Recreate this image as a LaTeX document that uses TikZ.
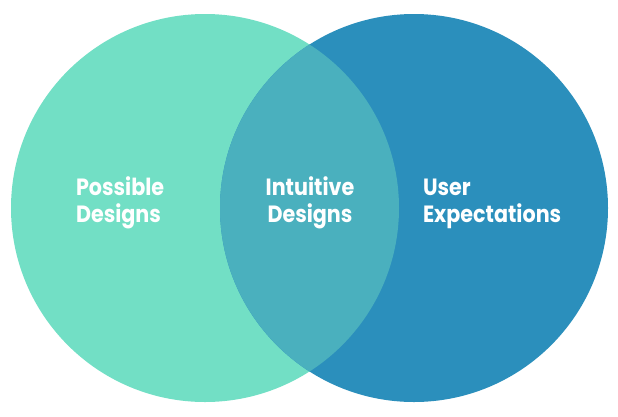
\documentclass[tikz,border=0pt]{standalone}
\usepackage{fontspec}
\setmainfont{Poppins}[UprightFont=* Bold, FakeStretch=0.88]
\definecolor{leftc}{HTML}{72DFC5}
\definecolor{rightc}{HTML}{2B8FBC}
\definecolor{lensc}{HTML}{4AB0BE}
\begin{document}
\begin{tikzpicture}[x=1pt,y=-1pt,
  lbl/.style={text=white,font=\fontsize{23.5}{27}\selectfont,inner sep=0pt,outer sep=0pt}]
\useasboundingbox (0,0) rectangle (618,416);
\fill[leftc] (205,208) circle[radius=194];
\fill[rightc] (414,208) circle[radius=194];
\begin{scope}
  \clip (205,208) circle[radius=194];
  \fill[lensc] (414,208) circle[radius=194];
\end{scope}
\node[lbl,anchor=base west,align=left] (possible) at (76,222) {Possible\\Designs};
\node[lbl,anchor=base,align=center] (intuitive) at (310,222) {Intuitive\\Designs};
\node[lbl,anchor=base west,align=left] (user) at (423,222) {User\\Expectations};
\end{tikzpicture}
\end{document}
